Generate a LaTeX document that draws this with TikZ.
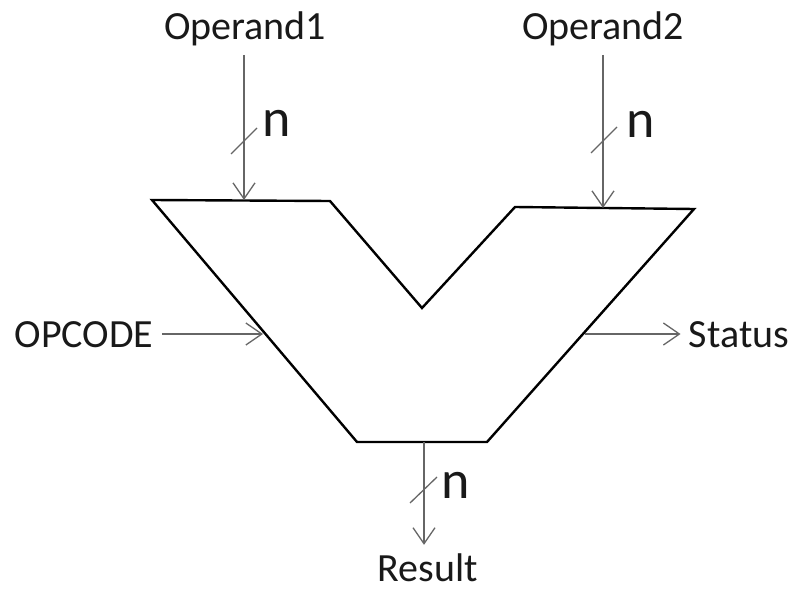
\documentclass[tikz,border=0pt]{standalone}
\usepackage{fontspec}
\setmainfont{Carlito}
\usetikzlibrary{arrows.meta,calc}
\begin{document}
\begin{tikzpicture}[x=0.5pt,y=-0.5pt,
	wire/.style={draw=black!60,line width=0.65pt,-{Straight Barb[length=8pt,width=11pt]}},
	tick/.style={draw=black!60,line width=0.65pt},
	lbl/.style={font=\fontsize{20}{24}\selectfont,text=black!90,inner sep=4pt,anchor=base},
	buswidth/.style={font=\fontsize{27}{30}\selectfont,text=black!90,inner sep=0pt,anchor=base}]
		\useasboundingbox (0,0) rectangle (796,588);
		% ALU outline
		\coordinate (a1) at (152,200);
		\coordinate (a2) at (330,201);
		\coordinate (a3) at (422,308);
		\coordinate (a4) at (515,207);
		\coordinate (a5) at (694,209);
		\coordinate (a6) at (487,442);
		\coordinate (a7) at (357,442);
		\draw [line width=1.2pt] (a1)--(a2)--(a3)--(a4)--(a5)--(a6)--(a7)--cycle;
		% ports on the outline
		\coordinate (p1) at (244,200);
		\coordinate (p2) at (603,208);
		\coordinate (pc) at (263,334);
		\coordinate (ps) at (585,334);
		\coordinate (pr) at (424,442);
		% labels
		\node [lbl] (op1) at (245,40) {Operand1};
		\node [lbl] (op2) at (603,40) {Operand2};
		\node [lbl] (opc) at (84,347) {OPCODE};
		\node [lbl] (st) at (739,347) {Status};
		\node [lbl] (res) at (428,581) {Result};
		% signals
		\draw [wire] (op1.south -| p1)--(p1);
		\draw [wire] (op2.south -| p2)--(p2);
		\draw [wire] (opc.east |- pc)--(pc);
		\draw [wire] (ps)--(st.west |- ps);
		\draw [wire] (pr)--(res.north -| pr);
		% bus widths
		\draw [tick] ($(p1)+(-13,-46)$)--($(p1)+(13,-72)$);
		\node [buswidth] (n1) at (277,137) {n};
		\draw [tick] ($(p2)+(-12,-55)$)--($(p2)+(14,-81)$);
		\node [buswidth] (n2) at (641,138) {n};
		\draw [tick] ($(pr)+(-14,61)$)--($(pr)+(13,35)$);
		\node [buswidth] (n3) at (456,498) {n};
\end{tikzpicture}
\end{document}
